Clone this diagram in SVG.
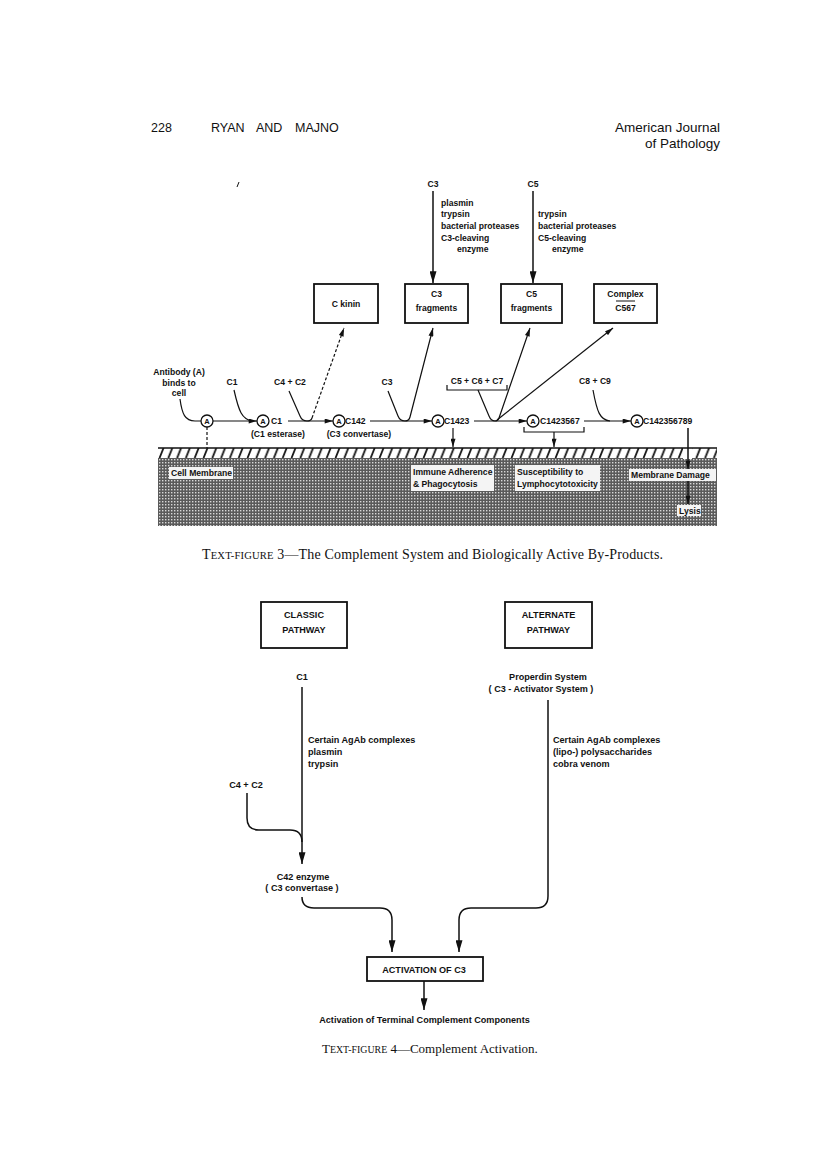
<svg xmlns="http://www.w3.org/2000/svg" width="816" height="1164" viewBox="0 0 816 1164">
<defs>
<style>
.hd{font-family:"Liberation Sans",Arial,sans-serif;font-size:12.5px;fill:#111}
.hr{font-family:"Liberation Sans",Arial,sans-serif;font-size:13.5px;fill:#111}
.t{font-family:"Liberation Sans",Arial,sans-serif;font-size:8.6px;font-weight:bold;fill:#111}
.ta{font-family:"Liberation Sans",Arial,sans-serif;font-size:7.5px;font-weight:bold;fill:#111;text-anchor:middle}
.b{font-family:"Liberation Sans",Arial,sans-serif;font-size:9.1px;font-weight:bold;fill:#111}
.cap{font-family:"Liberation Serif","Times New Roman",serif;font-size:14px;fill:#111}
.cap4{font-family:"Liberation Serif","Times New Roman",serif;font-size:13px;fill:#111}
.sc{font-size:10.6px}
.sc4{font-size:9.9px}
.box{fill:#fff;stroke:#111;stroke-width:1.8}
.ln{fill:none;stroke:#111;stroke-width:1.2}
.ln2{fill:none;stroke:#111;stroke-width:1.5}
.dash{fill:none;stroke:#111;stroke-width:1.2;stroke-dasharray:3 2}
.circ{fill:#fff;stroke:#111;stroke-width:1.3}
.lab{fill:#f4f4f4}
.m{text-anchor:middle}
</style>
<marker id="a1" viewBox="0 0 10 6" refX="10" refY="3" markerWidth="9" markerHeight="5" markerUnits="userSpaceOnUse" orient="auto"><path d="M0,0 L10,3 L0,6 z" fill="#111"/></marker>
<marker id="a2" viewBox="0 0 10 6" refX="10" refY="3" markerWidth="13" markerHeight="7" markerUnits="userSpaceOnUse" orient="auto"><path d="M0,0 L10,3 L0,6 z" fill="#111"/></marker>
<pattern id="hatch" patternUnits="userSpaceOnUse" width="8.8" height="10" x="158" y="448"><path d="M1.5,10 L5.5,0" stroke="#111" stroke-width="1.8"/></pattern>
<pattern id="stip" patternUnits="userSpaceOnUse" width="3" height="3"><rect width="3" height="3" fill="#5a5a5a"/><rect width="1.4" height="1.4" fill="#d8d8d8"/></pattern>
</defs>
<rect width="816" height="1164" fill="#fff"/>

<g id="header">
<text class="hd" x="151" y="132">228</text>
<text class="hd" x="211" y="132">RYAN</text>
<text class="hd" x="256" y="132">AND</text>
<text class="hd" x="295" y="132">MAJNO</text>
<text class="hr" x="720" y="132" text-anchor="end">American Journal</text>
<text class="hr" x="720" y="148" text-anchor="end">of Pathology</text>
</g>

<!-- Text-figure 3 -->
<g id="membrane">
<rect x="158" y="458" width="559" height="68" fill="url(#stip)"/>
<rect x="158" y="448" width="559" height="10" fill="#fff"/>
<rect x="158" y="448" width="559" height="10" fill="url(#hatch)"/>
<rect x="683" y="447" width="9" height="12" fill="#fff"/>
<line x1="158" y1="448" x2="717" y2="448" stroke="#111" stroke-width="1.4"/>
</g>
<g id="membrane-labels">
<rect class="lab" x="169" y="467" width="64" height="12"/>
<text class="t" x="171" y="476">Cell Membrane</text>
<rect class="lab" x="411" y="465" width="83" height="26"/>
<text class="t" x="413" y="475">Immune Adherence</text>
<text class="t" x="413" y="487">&amp; Phagocytosis</text>
<rect class="lab" x="515" y="465" width="85" height="26"/>
<text class="t" x="517" y="475">Susceptibility to</text>
<text class="t" x="517" y="487">Lymphocytotoxicity</text>
<rect class="lab" x="629" y="469" width="87" height="12"/>
<text class="t" x="631" y="478">Membrane Damage</text>
<rect class="lab" x="677" y="505" width="24" height="11"/>
<text class="t" x="679" y="514">Lysis</text>
</g>

<g id="connectors">
<line x1="237" y1="187" x2="239" y2="182" stroke="#111" stroke-width="1"/>
<line class="ln2" x1="433" y1="191" x2="433" y2="283" marker-end="url(#a2)"/>
<line class="ln2" x1="533" y1="191" x2="533" y2="283" marker-end="url(#a2)"/>
<path class="ln" d="M180,399 C182,414 185,421 195,421 L201,421"/>
<line class="dash" x1="207" y1="427" x2="207" y2="448"/>
<line class="ln" x1="213" y1="421" x2="257" y2="421" marker-end="url(#a1)"/>
<path class="ln" d="M234,390 C239,412 242,419 252,421"/>
<line class="ln" x1="288" y1="421" x2="333" y2="421" marker-end="url(#a1)"/>
<path class="ln" d="M289,391 L300,416 Q302,421 307,421 Q311,421 312,418"/>
<line class="dash" x1="312" y1="418" x2="344" y2="328" marker-end="url(#a1)"/>
<line class="ln" x1="370" y1="421" x2="432" y2="421" marker-end="url(#a1)"/>
<path class="ln" d="M388,391 L398,416 Q400,421 405,421 Q409,421 410,417 L433,328" marker-end="url(#a1)"/>
<line class="ln" x1="474" y1="421" x2="527" y2="421" marker-end="url(#a1)"/>
<path class="ln" d="M447,385 L447,390 L507,390 L507,385"/>
<path class="ln" d="M478,390 L489,416 Q491,421 495,421 Q498,421 499,418 L530,328" marker-end="url(#a1)"/>
<line class="ln" x1="497" y1="420" x2="613" y2="328" marker-end="url(#a1)"/>
<line class="ln" x1="453" y1="428" x2="453" y2="447" marker-end="url(#a1)"/>
<line class="ln" x1="584" y1="421" x2="631" y2="421" marker-end="url(#a1)"/>
<path class="ln" d="M593,390 C597,412 600,420 610,421"/>
<path class="ln" d="M524,427 L524,432 L584,432 L584,427"/>
<line class="ln" x1="554" y1="432" x2="554" y2="447" marker-end="url(#a1)"/>
<line class="ln2" x1="688" y1="428" x2="688" y2="469" marker-end="url(#a1)"/>
<line class="ln2" x1="688" y1="481" x2="688" y2="504" marker-end="url(#a1)"/>

<line class="ln2" x1="302" y1="687" x2="302" y2="864" marker-end="url(#a2)"/>
<path class="ln2" d="M247,793 L247,818 Q247,830 259,830 L290,830 Q302,830 302,842"/>
<path class="ln2" d="M302,897 Q302,908 314,908 L380,908 Q392,908 392,920 L392,952" marker-end="url(#a2)"/>
<path class="ln2" d="M548,700 L548,896 Q548,908 536,908 L471,908 Q459,908 459,920 L459,952" marker-end="url(#a2)"/>
<line class="ln2" x1="424" y1="981" x2="424" y2="1010" marker-end="url(#a2)"/>
</g>

<g id="enzymes-c3">
<text class="t m" x="433" y="187">C3</text>
<text class="t" x="441" y="206">plasmin</text>
<text class="t" x="441" y="217">trypsin</text>
<text class="t" x="441" y="229">bacterial proteases</text>
<text class="t" x="441" y="241">C3-cleaving</text>
<text class="t" x="457" y="252">enzyme</text>
</g>
<g id="enzymes-c5">
<text class="t m" x="533" y="187">C5</text>
<text class="t" x="538" y="217">trypsin</text>
<text class="t" x="538" y="229">bacterial proteases</text>
<text class="t" x="538" y="241">C5-cleaving</text>
<text class="t" x="552" y="252">enzyme</text>
</g>

<g id="c-kinin">
<rect class="box" x="314" y="284" width="64" height="39"/>
<text class="t m" x="346" y="307">C  kinin</text>
</g>
<g id="c3-fragments">
<rect class="box" x="405" y="284" width="63" height="39"/>
<text class="t m" x="436.5" y="297">C3</text>
<text class="t m" x="436.5" y="311">fragments</text>
</g>
<g id="c5-fragments">
<rect class="box" x="501" y="284" width="61" height="39"/>
<text class="t m" x="531.5" y="297">C5</text>
<text class="t m" x="531.5" y="311">fragments</text>
</g>
<g id="complex-c567">
<rect class="box" x="594" y="284" width="63" height="39"/>
<text class="t m" x="625.5" y="297">Complex</text>
<line x1="616" y1="301" x2="635" y2="301" stroke="#111" stroke-width="1"/>
<text class="t m" x="625.5" y="311">C567</text>
</g>

<g id="antibody">
<text class="t m" x="179" y="375">Antibody (A)</text>
<text class="t m" x="179" y="386">binds to</text>
<text class="t m" x="179" y="396">cell</text>
<circle class="circ" cx="207" cy="421" r="6"/>
<text class="ta" x="207" y="424">A</text>
</g>
<g id="c1-input"><text class="t m" x="232" y="385">C1</text></g>
<g id="c4c2-input"><text class="t m" x="290" y="385">C4 + C2</text></g>
<g id="c3-input"><text class="t m" x="387" y="385">C3</text></g>
<g id="c567-input"><text class="t m" x="477" y="384">C5 + C6 + C7</text></g>
<g id="c89-input"><text class="t m" x="595" y="384">C8 + C9</text></g>

<g id="ac1">
<circle class="circ" cx="263" cy="421" r="6"/>
<text class="ta" x="263" y="424">A</text>
<text class="t" x="271" y="424">C1</text>
<text class="t m" x="278" y="437">(C1 esterase)</text>
</g>
<g id="ac142">
<circle class="circ" cx="339" cy="421" r="6"/>
<text class="ta" x="339" y="424">A</text>
<text class="t" x="345" y="424">C142</text>
<text class="t m" x="359" y="437">(C3 convertase)</text>
</g>
<g id="ac1423">
<circle class="circ" cx="438" cy="421" r="6"/>
<text class="ta" x="438" y="424">A</text>
<text class="t" x="444" y="424">C1423</text>
</g>
<g id="ac1423567">
<circle class="circ" cx="533" cy="421" r="6"/>
<text class="ta" x="533" y="424">A</text>
<text class="t" x="540" y="424">C1423567</text>
</g>
<g id="ac142356789">
<circle class="circ" cx="637" cy="421" r="6"/>
<text class="ta" x="637" y="424">A</text>
<text class="t" x="643" y="424">C142356789</text>
</g>

<g id="caption3">
<text class="cap" x="202" y="559" textLength="461" lengthAdjust="spacing">T<tspan class="sc">EXT-FIGURE</tspan> 3—The Complement System and Biologically Active By-Products.</text>
</g>

<g id="classic-pathway">
<rect class="box" x="261" y="602" width="86" height="46"/>
<text class="b m" x="304" y="618">CLASSIC</text>
<text class="b m" x="304" y="633">PATHWAY</text>
</g>
<g id="alternate-pathway">
<rect class="box" x="505" y="602" width="87" height="46"/>
<text class="b m" x="548.5" y="618">ALTERNATE</text>
<text class="b m" x="548.5" y="633">PATHWAY</text>
</g>
<g id="c1"><text class="b m" x="302" y="680">C1</text></g>
<g id="classic-agents">
<text class="b" x="308" y="743">Certain AgAb complexes</text>
<text class="b" x="308" y="755">plasmin</text>
<text class="b" x="308" y="767">trypsin</text>
</g>
<g id="c4c2"><text class="b m" x="246" y="788">C4 + C2</text></g>
<g id="c42-enzyme">
<text class="b m" x="303" y="880">C42 enzyme</text>
<text class="b m" x="302" y="891">( C3 convertase )</text>
</g>
<g id="properdin">
<text class="b m" x="548" y="680">Properdin System</text>
<text class="b m" x="541" y="692">( C3 - Activator System )</text>
</g>
<g id="alternate-agents">
<text class="b" x="553" y="743">Certain AgAb complexes</text>
<text class="b" x="553" y="755">(lipo-) polysaccharides</text>
<text class="b" x="553" y="767">cobra venom</text>
</g>
<g id="activation-c3">
<rect class="box" x="367" y="957" width="116" height="24"/>
<text class="b m" x="424" y="973">ACTIVATION OF C3</text>
</g>
<g id="terminal">
<text class="b m" x="424.5" y="1023">Activation of Terminal Complement Components</text>
</g>
<g id="caption4">
<text class="cap4" x="322" y="1053">T<tspan class="sc4">EXT-FIGURE</tspan> 4—Complement Activation.</text>
</g>
</svg>
